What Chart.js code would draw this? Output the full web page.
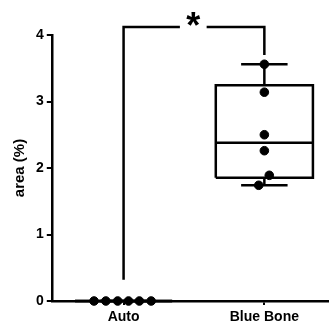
<!DOCTYPE html>
<html>
<head>
<meta charset="utf-8">
<script src="https://cdn.jsdelivr.net/npm/chart.js@4.4.0/dist/chart.umd.min.js"></script>
<style>
  html, body { margin: 0; padding: 0; background: #fff; }
  #wrap { width: 333px; height: 325px; }
</style>
</head>
<body>
<div id="wrap"><canvas id="chart" width="333" height="325"></canvas></div>
<script>
const categories = ['Auto', 'Blue Bone'];
const autoValues = [0, 0, 0, 0, 0, 0];
const blueBoneValues = [3.56, 3.14, 2.50, 2.26, 1.89, 1.74];
const yTicks = [0, 1, 2, 3, 4];
const sigLabel = '*';

// horizontal scatter of the dots inside each column
const autoJitter = [-0.21, -0.126, -0.042, 0.035, 0.112, 0.196];
const blueJitter = [0, 0, 0, 0, 0.035, -0.04];
const boxHalf = 0.345, capHalf = 0.165;
const bracketY = 4.12, leftLegEnd = 0.32, rightLegEnd = 3.70;

// quartiles, (n+1) position method
function quantile(sorted, p) {
  const pos = p * (sorted.length + 1) - 1;
  const lo = Math.max(0, Math.min(sorted.length - 1, Math.floor(pos)));
  const hi = Math.min(sorted.length - 1, lo + 1);
  return sorted[lo] + (pos - lo) * (sorted[hi] - sorted[lo]);
}
function stats(vals) {
  const s = [...vals].sort((a, b) => a - b);
  return { min: s[0], q1: quantile(s, 0.25), med: quantile(s, 0.5), q3: quantile(s, 0.75), max: s[s.length - 1] };
}

const seg = (pts, extra) => Object.assign({
  type: 'line', data: pts, borderColor: '#000', borderWidth: 2.5,
  pointRadius: 0, fill: false, tension: 0, clip: false, order: 2
}, extra || {});

const datasets = [];
[autoValues, blueBoneValues].forEach((vals, i) => {
  const st = stats(vals);
  // box
  datasets.push(seg([
    { x: i - boxHalf, y: st.q1 }, { x: i + boxHalf, y: st.q1 },
    { x: i + boxHalf, y: st.q3 }, { x: i - boxHalf, y: st.q3 }, { x: i - boxHalf, y: st.q1 }
  ], { fill: true, backgroundColor: '#ababab', order: 3 }));
  datasets.push(seg([{ x: i - boxHalf, y: st.med }, { x: i + boxHalf, y: st.med }]));
  // whiskers and caps
  datasets.push(seg([{ x: i, y: st.q3 }, { x: i, y: st.max }]));
  datasets.push(seg([{ x: i, y: st.q1 }, { x: i, y: st.min }]));
  datasets.push(seg([{ x: i - capHalf, y: st.max }, { x: i + capHalf, y: st.max }]));
  datasets.push(seg([{ x: i - capHalf, y: st.min }, { x: i + capHalf, y: st.min }]));
});

// significance bracket
datasets.push(seg([{ x: 0, y: leftLegEnd }, { x: 0, y: bracketY }, { x: 0.40, y: bracketY }]));
datasets.push(seg([{ x: 0.59, y: bracketY }, { x: 1, y: bracketY }, { x: 1, y: rightLegEnd }]));

// dots
datasets.push({
  type: 'scatter',
  data: autoValues.map((v, k) => ({ x: 0 + autoJitter[k], y: v })),
  pointRadius: 4.3, backgroundColor: '#000', borderColor: '#000', clip: false, order: 1
});
datasets.push({
  type: 'scatter',
  data: blueBoneValues.map((v, k) => ({ x: 1 + blueJitter[k], y: v })),
  pointRadius: 4.3, backgroundColor: '#000', borderColor: '#000', clip: false, order: 1
});

const starPlugin = {
  id: 'star',
  afterDatasetsDraw(chart) {
    const { ctx, scales } = chart;
    ctx.save();
    ctx.fillStyle = '#000';
    ctx.font = 'bold 36px "Liberation Sans", Arial, sans-serif';
    ctx.textAlign = 'center';
    ctx.textBaseline = 'top';
    ctx.fillText(sigLabel, scales.x.getPixelForValue(0.495), scales.y.getPixelForValue(bracketY) - 17);
    ctx.restore();
  }
};

const font = { family: '"Liberation Sans", Arial, sans-serif', size: 14, weight: 'bold' };

new Chart(document.getElementById('chart'), {
  type: 'scatter',
  data: { datasets },
  plugins: [starPlugin],
  options: {
    responsive: false,
    animation: false,
    plugins: { legend: { display: false }, tooltip: { enabled: false } },
    layout: { padding: { top: 35, right: 3, left: 11, bottom: 0 } },
    scales: {
      x: {
        type: 'linear', min: -0.51, max: 1.45,
        afterBuildTicks: axis => { axis.ticks = categories.map((_, i) => ({ value: i })); },
        afterFit: axis => { axis.height = 24; },
        ticks: { callback: v => categories[v], color: '#000', font, padding: 4, maxRotation: 0 },
        grid: { display: true, drawOnChartArea: false, drawTicks: true, tickLength: 4, color: '#000', lineWidth: 2 },
        border: { display: true, color: '#000', width: 2.5 }
      },
      y: {
        min: 0, max: 4,
        afterBuildTicks: axis => { axis.ticks = yTicks.map(v => ({ value: v })); },
        ticks: { color: '#000', font, padding: 3 },
        grid: { display: true, drawOnChartArea: false, drawTicks: true, tickLength: 5, color: '#000', lineWidth: 2 },
        border: { display: true, color: '#000', width: 2.5 },
        title: { display: true, text: 'area (%)', color: '#000', font: Object.assign({}, font, { size: 15 }), padding: { top: 0, bottom: 4 } }
      }
    }
  }
});
</script>
</body>
</html>
